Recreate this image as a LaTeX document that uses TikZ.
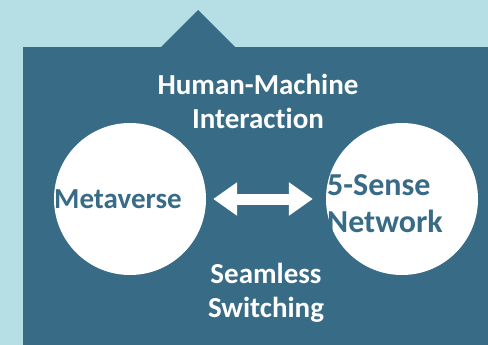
\documentclass[tikz,border=0pt]{standalone}
\usepackage{fontspec}
\setmainfont[RawFeature={-liga;-calt}]{Carlito}
\usetikzlibrary{arrows.meta, positioning}
\definecolor{skyback}{HTML}{B6DFE5}
\definecolor{panelteal}{HTML}{386B86}

\begin{document}
\begin{tikzpicture}[x=1pt, y=-1pt,
    bubble/.style={circle, fill=white, minimum size=152pt, inner sep=0pt},
    tealtext/.style={text=panelteal, font=\fontsize{29}{37}\selectfont\bfseries, align=left, inner sep=0pt},
    whitetext/.style={text=white, font=\fontsize{29}{34}\selectfont\bfseries, align=center, inner sep=0pt}]
    % background and panel with its tab
    \fill[skyback] (0,0) rectangle (488,345);
    \fill[panelteal] (23,47) rectangle (488,345);
    \fill[panelteal] (160,48) -- (198,10) -- (236,48) -- cycle;
    % the two worlds
    \node[bubble] (meta) at (130,199) {};
    \node[bubble] (net) at (402,199) {};
    \node[tealtext] (metalabel) at (118,199) {Metaverse};
    \node[tealtext, font=\fontsize{32}{37}\selectfont\bfseries, anchor=west] (netlabel) at (327,204) {5-Sense\\Network};
    % link between them
    \draw[white, line width=11pt,
          {Triangle[length=24pt,width=32pt]}-{Triangle[length=24pt,width=32pt]},
          shorten <=7pt, shorten >=13pt] (meta) -- (net);
    \node[whitetext] (hmi) at (258,101) {Human-Machine\\Interaction};
    \node[whitetext] (switch) at (266,293) {Seamless\\Switching};
\end{tikzpicture}
\end{document}
